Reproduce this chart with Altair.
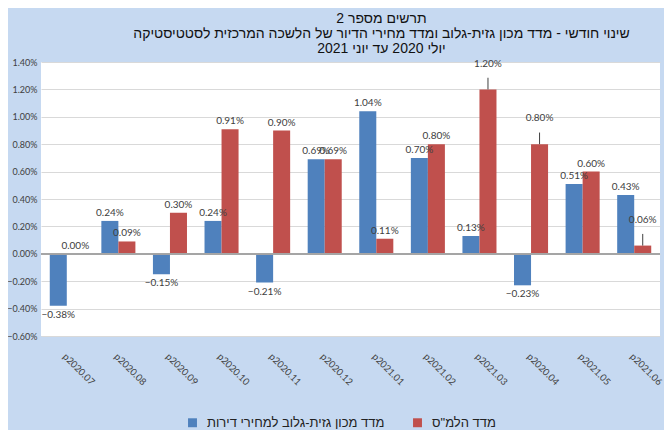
import altair as alt
import pandas as pd

months = ["p2020.07", "p2020.08", "p2020.09", "p2020.10", "p2020.11", "p2020.12",
          "p2021.01", "p2021.02", "p2021.03", "p2020.04", "p2021.05", "p2021.06"]
S1 = "מדד מכון גזית-גלוב למחירי דירות"
S2 = 'מדד הלמ"ס'
globes = [-0.38, 0.24, -0.15, 0.24, -0.21, 0.69, 1.04, 0.70, 0.13, -0.23, 0.51, 0.43]
cbs = [0.00, 0.09, 0.30, 0.91, 0.90, 0.69, 0.11, 0.80, 1.20, 0.80, 0.60, 0.06]
# labels that were pulled up with a leader line in the original
globes_lifted = [False] * 12
cbs_lifted = [False, False, False, False, False, False, False, False, True, True, False, True]

title_lines = ["תרשים מספר 2",
               "שינוי חודשי - מדד מכון גזית-גלוב ומדד מחירי הדיור של הלשכה המרכזית לסטטיסטיקה",
               "יולי 2020 עד יוני 2021"]
y_ticks = [-0.6, -0.4, -0.2, 0.0, 0.2, 0.4, 0.6, 0.8, 1.0, 1.2, 1.4]

rows = []
for m, v, l in zip(months, globes, globes_lifted):
    rows.append({"month": m, "series": S1, "value": v, "lifted": l})
for m, v, l in zip(months, cbs, cbs_lifted):
    rows.append({"month": m, "series": S2, "value": v, "lifted": l})
df = pd.DataFrame(rows)

BLUE = "#4f81bd"
RED = "#c0504d"
LBL = "#404040"

x_axis = alt.Axis(title=None, labelAngle=45, labelFont="Lato", labelFontSize=9.5,
                  labelColor=LBL, domain=False, ticks=False, labelPadding=15,
                  labelOffset=1, labelOverlap=False)
y_axis = alt.Axis(title=None, values=y_ticks,
                  labelExpr="format(datum.value, '.2f') + '%'",
                  labelFont="Lato", labelFontSize=9, labelColor=LBL,
                  domain=False, ticks=False, labelPadding=4, labelOverlap=False,
                  grid=True, gridColor="#d9d9d9")
x_scale = alt.Scale(paddingInner=0.34, paddingOuter=0.17)
y_scale = alt.Scale(domain=[-0.6, 1.4], nice=False, zero=False)

x_enc = alt.X("month:N", sort=months, scale=x_scale, axis=x_axis)
xo_enc = alt.XOffset("series:N", sort=[S1, S2])

base = alt.Chart(df).transform_calculate(
    label="format(datum.value, '.2f') + '%'",
    label_y="datum.lifted ? datum.value + 0.13 : datum.value",
    lead_top="datum.value + 0.085",
)

bars = base.mark_bar().encode(
    x=x_enc,
    xOffset=xo_enc,
    y=alt.Y("value:Q", scale=y_scale, axis=y_axis),
    color=alt.Color("series:N", sort=[S1, S2],
                    scale=alt.Scale(domain=[S1, S2], range=[BLUE, RED]),
                    legend=alt.Legend(title=None, orient="none", direction="horizontal",
                                      legendX=145, legendY=354,
                                      symbolType="square", symbolSize=80, symbolStrokeWidth=0,
                                      labelFont="Liberation Sans", labelFontSize=13,
                                      labelColor="#222222", labelOffset=8, labelLimit=400,
                                      columnPadding=26)),
)

zero = alt.Chart(df).mark_rule(color="#a6a6a6", strokeWidth=1).encode(
    y=alt.Y(datum=0, scale=y_scale, axis=y_axis))

pos_labels = base.transform_filter("datum.value >= 0").mark_text(
    baseline="bottom", dy=-3, font="Lato", fontSize=10, color=LBL
).encode(x=x_enc, xOffset=xo_enc,
         y=alt.Y("label_y:Q", scale=y_scale, axis=y_axis), text="label:N")

neg_labels = base.transform_filter("datum.value < 0").mark_text(
    baseline="top", dy=4, font="Lato", fontSize=10, color=LBL
).encode(x=x_enc, xOffset=xo_enc,
         y=alt.Y("label_y:Q", scale=y_scale, axis=y_axis), text="label:N")

leaders = base.transform_filter("datum.lifted").mark_rule(color=LBL, strokeWidth=1).encode(
    x=x_enc, xOffset=xo_enc,
    y=alt.Y("value:Q", scale=y_scale, axis=y_axis), y2="lead_top:Q")

chart = alt.layer(bars, zero, leaders, pos_labels, neg_labels).properties(
    width=619, height=274,
    autosize=alt.AutoSizeParams(type="none"),
    padding={"left": 33, "top": 54, "right": 4, "bottom": 94},
    background="#c6d9f1",
    title=alt.TitleParams(text=title_lines, font="Liberation Sans", fontSize=14,
                          fontWeight="normal", color="#111111", lineHeight=15,
                          anchor="middle", offset=2, dx=31),
).configure_view(fill="white", strokeWidth=0)

chart.save("out.html", embed_options={"renderer": "svg", "actions": False})
